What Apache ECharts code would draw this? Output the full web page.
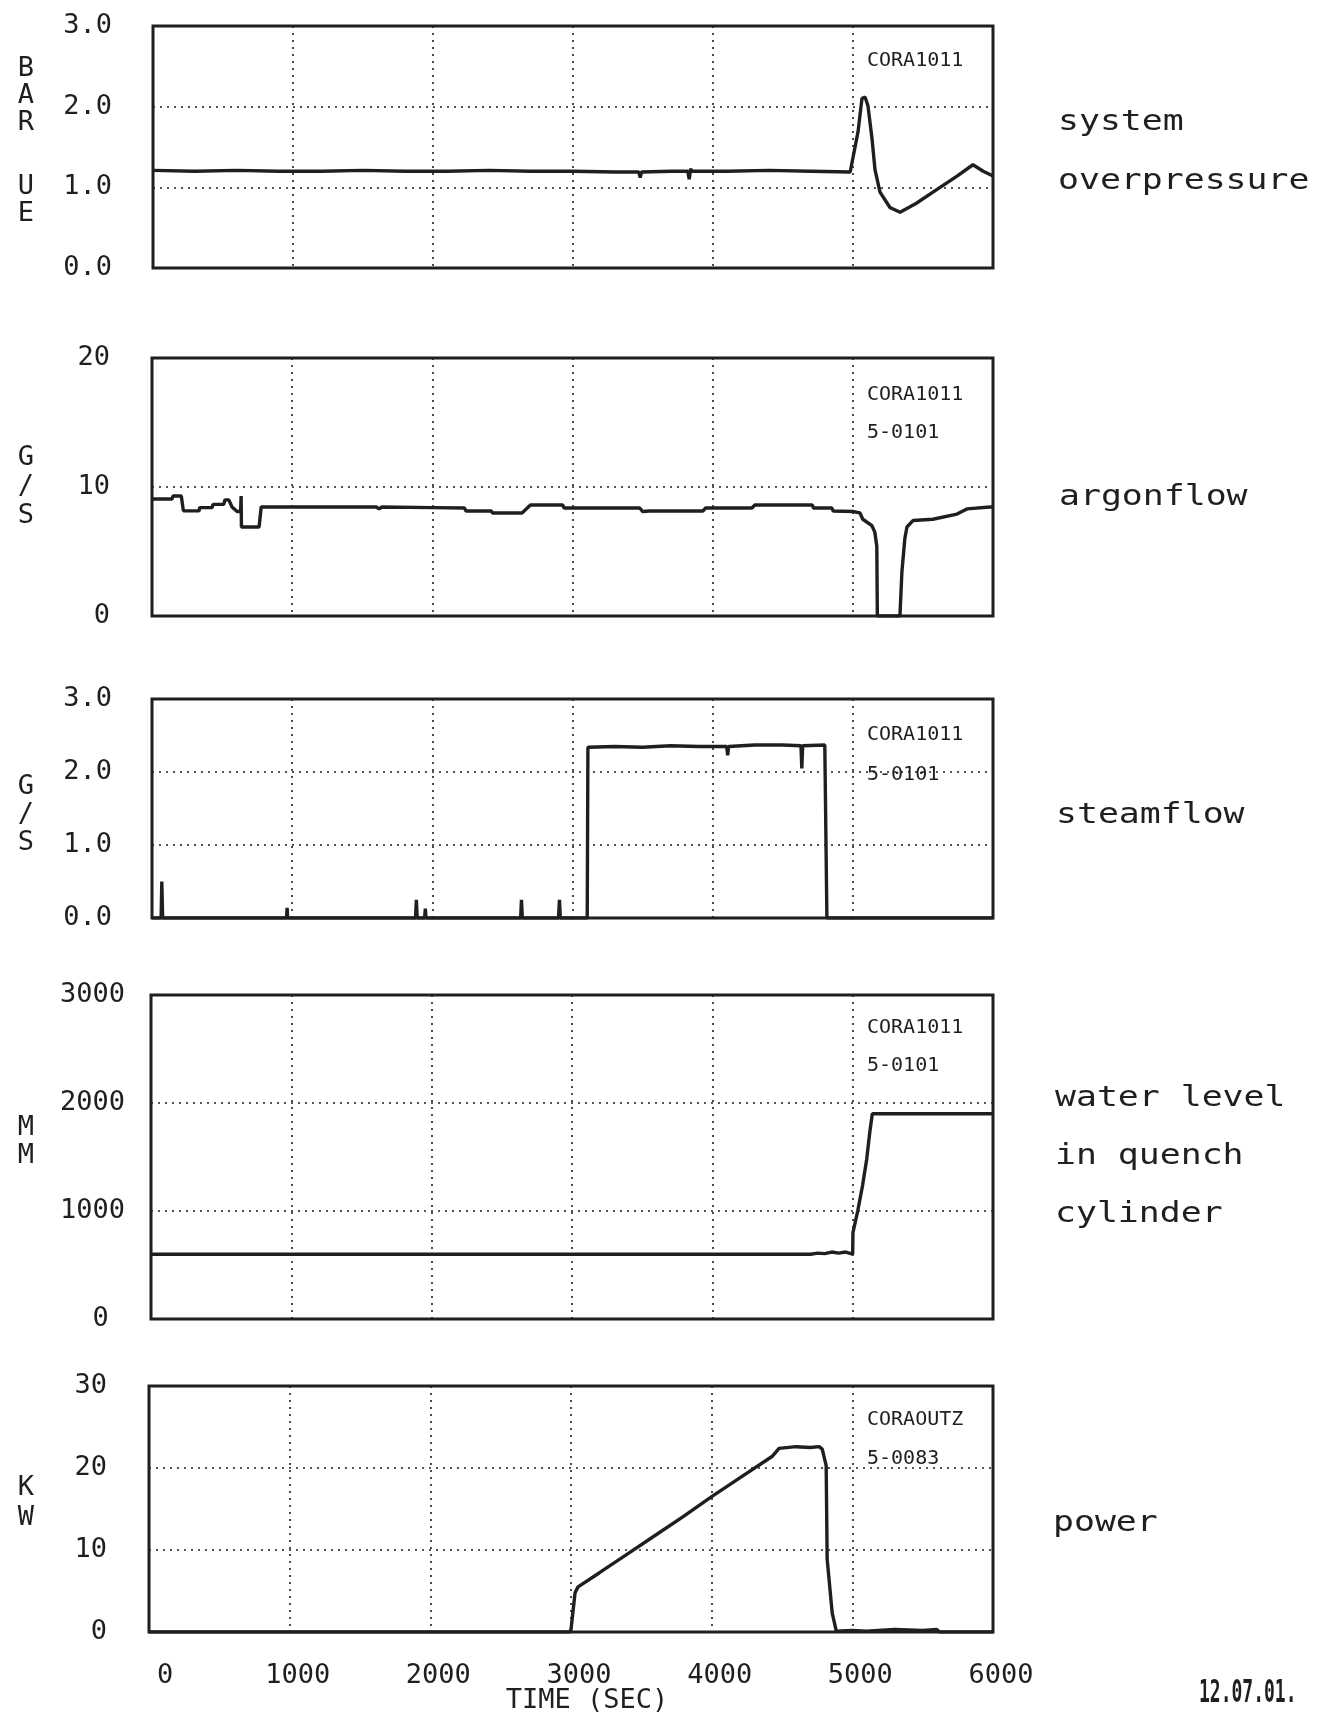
<!DOCTYPE html>
<html>
<head>
<meta charset="utf-8">
<script src="https://cdn.jsdelivr.net/npm/echarts@6/dist/echarts.min.js"></script>
<style>
  html, body { margin: 0; padding: 0; background: #fff; }
  #main { width: 1328px; height: 1717px; }
</style>
</head>
<body>
<div id="main"></div>
<script>
/* ================= data (time in s) ================= */
const timeTicks = [0, 1000, 2000, 3000, 4000, 5000, 6000];

// system overpressure, bar
const pressureData = [
  [0,1.21],[300,1.2],[600,1.21],[900,1.2],[1200,1.2],[1500,1.21],[1800,1.2],[2100,1.2],
  [2400,1.21],[2700,1.2],[3000,1.2],[3300,1.19],[3470,1.19],[3480,1.12],[3490,1.19],[3700,1.2],
  [3820,1.2],[3830,1.1],[3840,1.23],[3850,1.2],[4100,1.2],[4400,1.21],[4700,1.2],[4980,1.19],
  [5036,1.69],[5064,2.1],[5086,2.12],[5107,2.01],[5136,1.6],[5157,1.22],[5193,0.94],
  [5264,0.75],[5336,0.69],[5450,0.8],[5571,0.94],[5743,1.14],[5857,1.28],[5930,1.2],[6000,1.14]
];

// argonflow, g/s
const argonData = [
  [0,9.07],[143,9.07],[150,9.3],[209,9.3],[224,8.15],[336,8.15],[340,8.4],[429,8.4],[435,8.65],
  [512,8.65],[520,9.0],[548,9.0],[571,8.45],[607,8.1],[632,8.1],[636,9.3],[638,6.9],[764,6.9],
  [779,8.45],[1000,8.45],[1600,8.45],[1620,8.3],[1640,8.45],[2000,8.4],[2229,8.37],[2240,8.14],
  [2420,8.14],[2430,7.98],[2640,7.98],[2700,8.6],[2930,8.6],[2940,8.37],[3480,8.37],[3500,8.1],
  [3550,8.14],[3930,8.14],[3950,8.37],[4280,8.37],[4300,8.6],[4710,8.6],[4720,8.37],[4850,8.37],
  [4860,8.14],[5000,8.1],[5050,8.0],[5071,7.5],[5136,7.0],[5157,6.5],[5171,5.4],[5175,0],
  [5336,0],[5350,3.4],[5371,6.0],[5386,6.9],[5429,7.4],[5571,7.5],[5743,7.9],[5814,8.3],
  [5979,8.45],[6000,8.45]
];

// steamflow, g/s
const steamData = [
  [0,0],[65,0],[70,0.5],[76,0],[960,0],[964,0.14],[968,0],[1880,0],[1886,0.25],[1892,0],
  [1945,0],[1950,0.13],[1955,0],[2630,0],[2636,0.25],[2642,0],[2900,0],[2907,0.25],[2913,0],
  [3105,0],[3110,2.34],[3300,2.35],[3500,2.34],[3700,2.36],[3900,2.35],[4100,2.35],
  [4107,2.23],[4114,2.35],[4300,2.37],[4500,2.37],[4630,2.36],[4636,2.05],[4642,2.36],
  [4800,2.37],[4810,2.35],[4815,0],[6000,0]
];

// water level in quench cylinder, mm
const waterData = [
  [0,600],[1000,600],[2000,600],[3000,600],[4000,600],[4700,600],[4750,610],[4800,605],
  [4850,620],[4900,610],[4950,620],[5000,600],[5002,800],[5036,1000],[5071,1240],[5100,1480],
  [5121,1720],[5140,1900],[6000,1900]
];

// electric power, kW
const powerData = [
  [0,0],[2990,0],[3000,0.3],[3029,4.8],[3050,5.5],[3200,7.2],[3400,9.5],[3600,11.8],
  [3800,14.1],[4000,16.5],[4200,18.8],[4429,21.4],[4479,22.4],[4600,22.6],[4700,22.5],
  [4764,22.6],[4786,22.3],[4814,20.3],[4821,8.9],[4857,2.3],[4886,0.1],[5000,0.2],[5100,0.1],
  [5300,0.3],[5500,0.2],[5600,0.3],[5620,0],[6000,0]
];

const yMax      = [3, 20, 3, 3000, 30];
const yStep     = [1, 10, 1, 1000, 10];
const yDecimals = [1, 0, 1, 0, 0];
const yUnits    = ['B\nA\nR', 'G\n/\nS', 'G\n/\nS', 'M\nM', 'K\nW'];
const titles    = [['system', 'overpressure'], ['argonflow'], ['steamflow'],
                   ['water level', 'in quench', 'cylinder'], ['power']];
const codes     = [['CORA1011'], ['CORA1011', '5-0101'], ['CORA1011', '5-0101'],
                   ['CORA1011', '5-0101'], ['CORAOUTZ', '5-0083']];
const seriesData = [pressureData, argonData, steamData, waterData, powerData];

/* ================= layout ================= */
const INK  = '#1f1f1f';
const MONO = 'DejaVu Sans Mono';
const panels = [
  { left: 153, top: 26,   height: 242, labelMargin: 41 },
  { left: 152, top: 358,  height: 258, labelMargin: 42 },
  { left: 152, top: 699,  height: 219, labelMargin: 40 },
  { left: 151, top: 995,  height: 324, labelMargin: 26 },
  { left: 149, top: 1386, height: 246, labelMargin: 42 }
];
const RIGHT = 993;
const dotted = { type: [2, 5], color: INK, width: 1.6 };

const chart = echarts.init(document.getElementById('main'));

const grid = panels.map(p => ({
  left: p.left, top: p.top, width: RIGHT - p.left, height: p.height,
  show: true, borderColor: INK, borderWidth: 3, backgroundColor: 'transparent'
}));

const xAxis = panels.map((p, i) => ({
  type: 'value', gridIndex: i, min: timeTicks[0], max: timeTicks[timeTicks.length - 1],
  interval: 1000,
  axisLine: { show: false }, axisTick: { show: false },
  axisLabel: {
    show: i === 4, margin: 30, padding: [0, 0, 0, 16],
    fontFamily: MONO, fontSize: 27, color: INK,
    formatter: v => v === 0 ? ' 0' : String(v)
  },
  splitLine: { show: true, lineStyle: dotted }
}));

const yAxis = panels.map((p, i) => ({
  type: 'value', gridIndex: i, min: 0, max: yMax[i], interval: yStep[i],
  axisLine: { show: false }, axisTick: { show: false },
  axisLabel: {
    margin: p.labelMargin, fontFamily: MONO, fontSize: 27, color: INK,
    formatter: v => (i === 3 && v === 0) ? '0 ' : v.toFixed(yDecimals[i])
  },
  splitLine: { show: true, lineStyle: dotted }
}));

const series = seriesData.map((d, i) => ({
  type: 'line', xAxisIndex: i, yAxisIndex: i, data: d,
  showSymbol: false, silent: true,
  lineStyle: { color: INK, width: 3.4 }
}));

/* ================= texts around the panels ================= */
const txt = (text, x, y, size, opts = {}) => Object.assign({
  type: 'text', x, y, silent: true,
  style: Object.assign({
    text, fill: INK, font: `${opts.weight || 'normal'} ${size}px "${MONO}"`,
    textAlign: 'left', textVerticalAlign: 'middle'
  }, opts.style || {})
}, opts.el || {});

const graphic = [];

// unit letters on the left
const unitCentres = [96, 487, 815, 1142, 1503];
const unitLead    = [27, 29, 28, 28, 30];
yUnits.forEach((u, i) => {
  graphic.push(txt(u, 26, unitCentres[i], 27,
    { style: { textAlign: 'center', lineHeight: unitLead[i] } }));
});
graphic.push(txt('U\nE', 26, 200, 27, { style: { textAlign: 'center', lineHeight: 27 } }));

// descriptions on the right
const titleY = [[122, 181], [497], [815], [1098, 1156, 1214], [1523]];
const titleX = [1058, 1059, 1056, 1055, 1053];
titles.forEach((lines, i) => {
  lines.forEach((t, j) => {
    graphic.push(txt(t, titleX[i], titleY[i][j], 29, { el: { scaleX: 1.2 } }));
  });
});

// run codes inside the panels
const codeY = [[61], [395, 433], [735, 775], [1028, 1066], [1420, 1459]];
codes.forEach((lines, i) => {
  lines.forEach((t, j) => graphic.push(txt(t, 867, codeY[i][j], 20)));
});

// x axis title and date
graphic.push(txt('TIME (SEC)', 587, 1701, 27, { style: { textAlign: 'center' } }));
graphic.push(txt('12.07.01.', 1199, 1694, 18, { weight: 'bold', el: { scaleY: 1.75 } }));

chart.setOption({
  backgroundColor: '#fff',
  animation: false,
  grid, xAxis, yAxis, series, graphic
});
</script>
</body>
</html>
